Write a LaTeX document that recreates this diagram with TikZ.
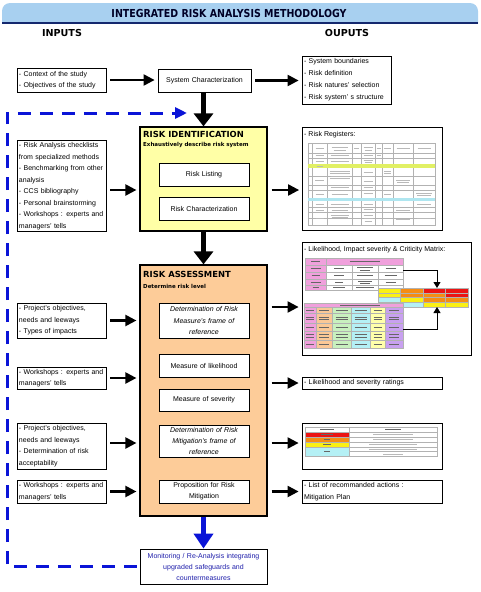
\documentclass[tikz,border=0pt]{standalone}
\usepackage{fontspec}
\setmainfont{Liberation Sans}
\newfontfamily\hfont{DejaVu Sans}
\usepackage{graphicx}
\usetikzlibrary{arrows.meta,calc}

\definecolor{barblue}{RGB}{168,208,240}
\definecolor{barline}{RGB}{20,40,110}
\definecolor{riyellow}{RGB}{255,255,166}
\definecolor{rapeach}{RGB}{253,204,153}
\definecolor{loopblue}{RGB}{10,20,215}
\definecolor{montext}{RGB}{30,30,170}
\definecolor{mred}{RGB}{235,20,20}
\definecolor{morange}{RGB}{245,140,20}
\definecolor{myellow}{RGB}{250,240,20}
\definecolor{mcyan}{RGB}{180,240,245}
\definecolor{mpink}{RGB}{240,160,220}
\definecolor{mpeach}{RGB}{250,200,150}
\definecolor{mgreen}{RGB}{200,240,190}
\definecolor{mlyellow}{RGB}{255,255,170}
\definecolor{mlav}{RGB}{200,160,240}
\definecolor{bandyg}{RGB}{225,240,100}
\definecolor{bandcy}{RGB}{175,230,240}

\begin{document}
\begin{tikzpicture}[x=1pt,y=-1pt,
  box/.style={draw=black, line width=0.8pt, fill=white, inner sep=2pt,
    font=\fontsize{7}{11.5}\selectfont},
  inbox/.style={box, minimum width=89pt, text width=85pt, align=left},
  outbox/.style={box, minimum width=140pt, text width=136pt, align=left},
  subbox/.style={box, minimum width=90pt, text width=86pt, align=center,
    font=\fontsize{7}{11.3}\selectfont},
  bigbox/.style={draw=black, line width=1.2pt, minimum width=127pt, inner sep=0pt},
  harr/.style={-{Triangle[length=11pt,width=11pt]}, line width=2.2pt,
    shorten <=4pt, shorten >=3pt},
  varr/.style={-{Triangle[length=13pt,width=19pt]}, line width=4.5pt},
  barr/.style={-{Triangle[length=15pt,width=19pt]}, line width=5.5pt, loopblue},
  looppath/.style={loopblue, line width=3pt, dash pattern=on 13pt off 9pt,
    -{Triangle[length=12pt,width=11pt]}},
  head/.style={font=\hfont\bfseries\fontsize{9.6}{11}\selectfont, inner sep=0pt},
  bigtitle/.style={anchor=west, inner sep=0pt, font=\hfont\bfseries\fontsize{8.4}{10}\selectfont},
  subtitle/.style={anchor=west, inner sep=0pt, font=\hfont\bfseries\fontsize{5.5}{7}\selectfont},
  grid/.style={draw=gray!60, line width=0.3pt},
  tmark/.style={draw=gray!55, line width=0.8pt},
  dmark/.style={draw=black!60, line width=0.6pt},
]
\useasboundingbox (0,0) rectangle (480,592);

% title bar
\begin{scope}
  \clip (0,0) rectangle (480,23);
  \fill[barblue, rounded corners=8pt] (2,3) rectangle (478,40);
\end{scope}
\draw[barline, line width=1.2pt] (2,23) -- (478,23);
\node[font=\hfont\bfseries\fontsize{11}{12}\selectfont, text=black!85!blue, inner sep=0pt]
  (title) at (229,13.5) {\scalebox{0.86}[1]{INTEGRATED RISK ANALYSIS METHODOLOGY}};
\node[head] (inputs) at (62,33.5) {INPUTS};
\node[head] (outputs) at (347,33.5) {OUPUTS};

% big boxes
\node[bigbox, fill=riyellow, minimum height=104pt] (RI) at (203.5,179) {};
\node[bigbox, fill=rapeach, minimum height=251pt] (RA) at (203.5,390.5) {};
\node[bigtitle] (RIt) at (143,134.5) {RISK IDENTIFICATION};
\node[subtitle] (RIs) at (143,145.5) {Exhaustively describe risk system};
\node[bigtitle] (RAt) at (143,274) {RISK ASSESSMENT};
\node[subtitle] (RAs) at (143,286.5) {Determine risk level};

% system characterization
\node[subbox, minimum width=93pt, minimum height=23pt] (sys) at (204.5,80.5) {System Characterization};

% sub boxes
\node[subbox, minimum height=23pt] (RL) at (204,174.5) {Risk Listing};
\node[subbox, minimum height=23pt] (RC) at (204,208.5) {Risk Characterization};
\node[subbox, minimum height=35pt, font=\itshape\fontsize{7}{11.3}\selectfont] (D1) at (204,320.5)
  {Determination of Risk\\Measure's frame of\\reference};
\node[subbox, minimum height=23pt] (ML) at (204,365.5) {Measure of likelihood};
\node[subbox, minimum height=22pt] (MS) at (204,400) {Measure of severity};
\node[subbox, minimum height=32pt, font=\itshape\fontsize{7}{11.3}\selectfont] (D2) at (204,441)
  {Determination of Risk\\Mitigation's frame of\\reference};
\node[subbox, minimum height=23pt] (PR) at (204,491.5) {Proposition for Risk\\Mitigation};

% monitoring
\node[box, minimum width=127pt, text width=123pt, align=center, minimum height=35pt,
  text=montext, font=\fontsize{7}{11}\selectfont] (mon) at (203.5,566.5)
  {Monitoring / Re-Analysis integrating\\upgraded safeguards and\\countermeasures};

% inputs
\node[inbox, minimum height=24pt] (in1) at (61.5,80)
  {- Context of the study\\- Objectives of the study};
\node[inbox, minimum height=90pt] (in2) at (61.5,186)
  {- Risk Analysis checklists\\from specialized methods\\- Benchmarking from other\\analysis\\- CCS bibliography\\- Personal brainstorming\\- Workshops : experts and\\managers' tells};
\node[inbox, minimum height=35pt] (in3) at (61.5,320.5)
  {- Project's objectives,\\needs and leeways\\- Types of impacts};
\node[inbox, minimum height=22pt] (in4) at (61.5,378)
  {- Workshops : experts and\\managers' tells};
\node[inbox, minimum height=46pt] (in5) at (61.5,446)
  {- Project's objectives,\\needs and leeways\\- Determination of risk\\acceptability};
\node[inbox, minimum height=23pt] (in6) at (61.5,491.5)
  {- Workshops : experts and\\managers' tells};

% outputs
\node[inbox, minimum height=48pt, font=\fontsize{7}{12}\selectfont] (out1) at (346.5,80)
  {- System boundaries\\- Risk definition\\- Risk natures' selection\\- Risk system' s structure};
\node[outbox, minimum width=139pt, minimum height=103pt] (out2) at (372.5,178.5) {};
\node[anchor=west, inner sep=0pt, font=\fontsize{7}{9}\selectfont] (out2t) at (304,135) {- Risk Registers:};
\node[box, minimum width=169pt, minimum height=113pt] (out3) at (386.5,298.5) {};
\node[anchor=west, inner sep=0pt, font=\fontsize{7}{9}\selectfont] (out3t) at (304,249.5)
  {- Likelihood, Impact severity \& Criticity Matrix:};
\node[outbox, minimum height=12pt, inner sep=1pt] (out4) at (372,383) {- Likelihood and severity ratings};
\node[outbox, minimum height=46pt] (out5) at (372,446) {};
\node[outbox, minimum height=23pt] (out6) at (372,491.5)
  {- List of recommanded actions :\\Mitigation Plan};

% ---- risk register table picture
\draw[grid] (308,143) rectangle (435,225);
\foreach \x in {312,327,352,361,375,382,393,413}
  \draw[grid] (\x,143) -- (\x,164) (\x,168) -- (\x,198) (\x,201) -- (\x,225);
\foreach \y in {153,158,176,185,190,207,212,218}
  \draw[grid] (308,\y) -- (435,\y);
\fill[bandyg] (308,164) rectangle (435,168);
\fill[bandcy] (308,198) rectangle (435,201);
\foreach \x/\y/\w in {319.5/148/8, 339.5/147/16, 339.5/150/12, 356.5/148/5, 368/147/9, 368/150/7,
  378.5/148/4, 387.5/148/7, 403/148/13, 424/148/13,
  319.5/155.5/8, 339.5/155.5/18, 368/155.5/9, 378.5/155.5/4,
  319.5/161/8, 339.5/161/18, 368/160/9, 368/162.5/7,
  319.5/166/6,
  319.5/180/9, 339.5/171/20, 339.5/173.5/20, 339.5/176/18, 339.5/178.5/20, 368/172/9, 368/181/9,
  387.5/171/7, 387.5/173.5/7, 403/180/14, 403/182.5/12,
  339.5/187.5/18, 368/187.5/9,
  319.5/194/8, 339.5/194/16, 368/193/9, 387.5/194/7, 424/193/16, 424/195.5/14,
  319.5/204/8, 339.5/204/18, 368/204/9, 424/204/14,
  319.5/210/8, 339.5/210/16, 368/209/9, 403/210/14,
  319.5/218/8, 339.5/215/18, 339.5/217.5/16, 368/215/9, 368/218/9, 368/221/7, 403/219/14, 424/218/14}
  \draw[tmark] (\x-\w/2,\y) -- (\x+\w/2,\y);

% ---- matrix picture
\fill[mpink] (305,258) rectangle (326,290);
\fill[mpink] (326,258) rectangle (403,265);
\draw[grid] (305,258) rectangle (403,290);
\foreach \y in {265,272,279,285} \draw[grid] (305,\y) -- (403,\y);
\foreach \x in {326,352,378} \draw[grid] (\x,265) -- (\x,290);
\draw[grid] (326,258) -- (326,265);
\foreach \x/\y/\w in {315.5/261.5/9, 364.5/261.5/30,
  315.5/268.5/10, 339/268.5/10, 365/267.5/16, 365/270/10, 390.5/268.5/10,
  315.5/275.5/8, 339/275.5/10, 365/275.5/16, 390.5/275.5/12,
  315.5/282/10, 339/282/8, 365/281/14, 365/283.5/10, 390.5/282/10,
  315.5/287.5/6, 339/287.5/12, 365/287.5/18}
  \draw[dmark] (\x-\w/2,\y) -- (\x+\w/2,\y);
% colour grid
\foreach \r/\colA/\colB/\colC/\colD [count=\i] in
  {288/myellow/morange/mred/mred, 292.75/myellow/morange/morange/mred,
   297.5/mcyan/myellow/morange/morange, 302.25/mcyan/mcyan/myellow/myellow}{
  \fill[\colA] (378,\r) rectangle (400.5,\r+4.75);
  \fill[\colB] (400.5,\r) rectangle (423,\r+4.75);
  \fill[\colC] (423,\r) rectangle (445.5,\r+4.75);
  \fill[\colD] (445.5,\r) rectangle (468,\r+4.75);
}
\draw[grid] (378,288) rectangle (468,307);
\foreach \y in {292.75,297.5,302.25} \draw[grid] (378,\y) -- (468,\y);
\foreach \x in {400.5,423,445.5} \draw[grid] (\x,288) -- (\x,307);
% impact table
\fill[mpink] (304,303) rectangle (403,307);
\fill[mpink] (304,307) rectangle (316,348);
\fill[mpeach] (316,307) rectangle (332,348);
\fill[mgreen] (332,307) rectangle (351,348);
\fill[mcyan] (351,307) rectangle (370,348);
\fill[mlyellow] (370,307) rectangle (385,348);
\fill[mlav] (385,307) rectangle (403,348);
\draw[grid] (304,303) rectangle (403,348);
\foreach \y in {307,313,323,331,340} \draw[grid] (304,\y) -- (403,\y);
\foreach \x in {316,332,351,370,385} \draw[grid] (\x,307) -- (\x,348);
\foreach \x/\w in {310/8,324/10,341.5/12,360.5/12,377.5/8,394/10}{
  \draw[dmark] (\x-\w/2,310) -- (\x+\w/2,310);
  \draw[dmark] (\x-\w/2,317) -- (\x+\w/2,317);
  \draw[dmark] (\x-\w/2,319.5) -- (\x+\w/2,319.5);
  \draw[dmark] (\x-\w/2,327) -- (\x+\w/2,327);
  \draw[dmark] (\x-\w/2,334.5) -- (\x+\w/2,334.5);
  \draw[dmark] (\x-\w/2,337) -- (\x+\w/2,337);
  \draw[dmark] (\x-\w/2,344) -- (\x+\w/2,344);
}
\draw[dmark] (340,305) -- (380,305);
\draw[-{Triangle[length=6pt,width=7pt]}, line width=0.9pt] (403,270) -- (437,270) -- (437,288);
\draw[-{Triangle[length=6pt,width=7pt]}, line width=0.9pt] (403,329) -- (437,329) -- (437,307);

% ---- mitigation table picture
\fill[mred] (305,432) rectangle (349,437);
\fill[morange] (305,437) rectangle (349,442);
\fill[myellow] (305,442) rectangle (349,447);
\fill[mcyan] (305,447) rectangle (349,456);
\draw[grid] (305,427) rectangle (437,456);
\draw[grid] (349,427) -- (349,456);
\foreach \y in {432,437,442,447} \draw[grid] (305,\y) -- (437,\y);
\draw[grid] (349,451.5) -- (437,451.5);
\foreach \x/\y/\w in {327/429.5/14, 393/429.5/16, 327/434.5/12, 327/439.5/6, 327/444.5/8, 327/451.5/6}
  \draw[dmark] (\x-\w/2,\y) -- (\x+\w/2,\y);
\foreach \y/\w in {434.5/40, 439.5/40, 444.5/48, 449.5/48, 454/20}
  \draw[tmark] (393-\w/2,\y) -- (393+\w/2,\y);

% ---- connectors
\draw[harr] (in1.east) -- (in1.east -| sys.west);
\draw[harr] (sys.east) -- (sys.east -| out1.west);
\draw[varr] (RI.north |- sys.south) -- (RI.north);
\coordinate (a2) at ([yshift=-4pt]in2.east);
\draw[harr] (a2) -- (a2 -| RI.west);
\coordinate (b2) at ([yshift=-11.5pt]out2.west);
\draw[harr] (b2 -| RI.east) -- (b2);
\draw[varr] (RI.south) -- (RA.north);
\draw[harr] (in3.east) -- (in3.east -| RA.west);
\draw[harr] (in4.east) -- (in4.east -| RA.west);
\coordinate (a5) at ([yshift=3pt]in5.east);
\draw[harr] (a5) -- (a5 -| RA.west);
\draw[harr] (in6.east) -- (in6.east -| RA.west);
\coordinate (b3) at ([yshift=-8.5pt]out3.west);
\draw[harr] (b3 -| RA.east) -- (b3);
\draw[harr] (out4.west -| RA.east) -- (out4.west);
\coordinate (b5) at ([yshift=3pt]out5.west);
\draw[harr] (b5 -| RA.east) -- (b5);
\draw[harr] (out6.west -| RA.east) -- (out6.west);
\draw[barr] (RA.south) -- (mon.north);
\coordinate (loopL) at (7,113);
\coordinate (loopT) at (187,113);
\draw[looppath, shorten <=3pt] (mon.west) -| (loopL) -- (loopT);
\end{tikzpicture}
\end{document}
